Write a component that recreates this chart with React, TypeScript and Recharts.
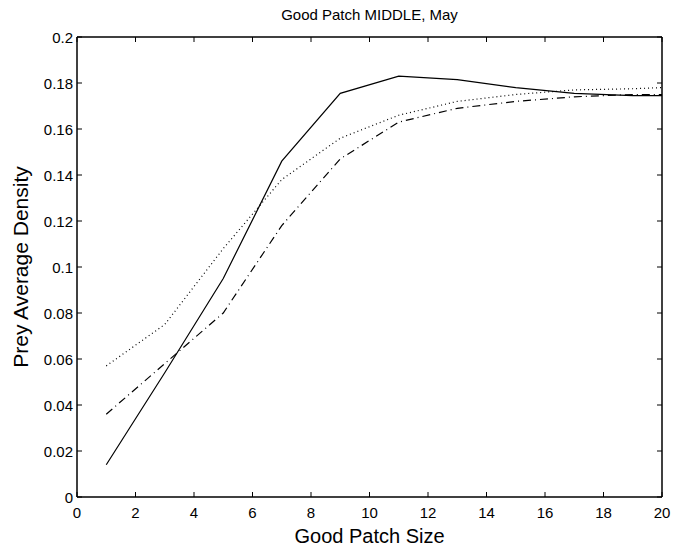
import React from 'react';
import { LineChart, Line, XAxis, YAxis } from 'recharts';

const patchSize = [1, 3, 5, 7, 9, 11, 13, 15, 17, 19, 20];
const solidSeries = [0.014, 0.054, 0.095, 0.146, 0.1755, 0.183, 0.1815, 0.178, 0.1755, 0.1745, 0.1745];
const dottedSeries = [0.057, 0.075, 0.108, 0.138, 0.156, 0.166, 0.172, 0.175, 0.177, 0.1775, 0.178];
const dashDotSeries = [0.036, 0.058, 0.080, 0.118, 0.147, 0.163, 0.169, 0.172, 0.174, 0.175, 0.175];
const xTicks = [0, 2, 4, 6, 8, 10, 12, 14, 16, 18, 20];
const yTicks = [0, 0.02, 0.04, 0.06, 0.08, 0.1, 0.12, 0.14, 0.16, 0.18, 0.2];
const yTickLabels = ['0', '0.02', '0.04', '0.06', '0.08', '0.1', '0.12', '0.14', '0.16', '0.18', '0.2'];

const data = patchSize.map((x, i) => ({
  x,
  solid: solidSeries[i],
  dotted: dottedSeries[i],
  dashdot: dashDotSeries[i],
}));

const FONT = '"Liberation Sans", Arial, Helvetica, sans-serif';
const TL = 5;

const BottomTick = (p: any) => (
  <g>
    <line x1={p.x} y1={p.y} x2={p.x} y2={p.y - TL} stroke="#000" strokeWidth={1} />
    <text x={p.x} y={p.y + 21} textAnchor="middle" fontSize={15} fontFamily={FONT} fill="#000">
      {p.payload.value}
    </text>
  </g>
);
const TopTick = (p: any) => (
  <line x1={p.x} y1={p.y} x2={p.x} y2={p.y + TL} stroke="#000" strokeWidth={1} />
);
const LeftTick = (p: any) => {
  const idx = yTicks.indexOf(p.payload.value);
  return (
    <g>
      <line x1={p.x} y1={p.y} x2={p.x + TL} y2={p.y} stroke="#000" strokeWidth={1} />
      <text x={p.x - 4} y={p.y + 5.5} textAnchor="end" fontSize={15} fontFamily={FONT} fill="#000">
        {idx >= 0 ? yTickLabels[idx] : p.payload.value}
      </text>
    </g>
  );
};
const RightTick = (p: any) => (
  <line x1={p.x} y1={p.y} x2={p.x - TL} y2={p.y} stroke="#000" strokeWidth={1} />
);

export default function App() {
  return (
    <div style={{ position: 'absolute', left: 0, top: 0, width: 675, height: 548, background: '#fff' }}>
      <LineChart width={675} height={548} data={data} margin={{ top: 36, right: 12, bottom: 0, left: 0 }}>
        <XAxis
          dataKey="x"
          type="number"
          domain={[0, 20]}
          ticks={xTicks}
          allowDataOverflow
          height={51}
          tickSize={0}
          tickMargin={0}
          tick={<BottomTick />}
          axisLine={{ stroke: '#000', strokeWidth: 1.5 }}
          tickLine={false}
          label={(props: any) => {
            const vb = props.viewBox || {};
            return (
              <text x={(vb.x ?? 77) + (vb.width ?? 585) / 2} y={543} textAnchor="middle" fontSize={20} fontFamily={FONT} fill="#000">
                Good Patch Size
              </text>
            );
          }}
        />
        <XAxis
          xAxisId="top"
          dataKey="x"
          type="number"
          orientation="top"
          domain={[0, 20]}
          ticks={xTicks}
          allowDataOverflow
          height={1}
          tickSize={0}
          tickMargin={0}
          tick={<TopTick />}
          axisLine={{ stroke: '#000', strokeWidth: 1.5 }}
          tickLine={false}
          label={(props: any) => {
            const vb = props.viewBox || {};
            return (
              <text x={(vb.x ?? 77) + (vb.width ?? 585) / 2} y={20} textAnchor="middle" fontSize={15} fontFamily={FONT} fill="#000">
                Good Patch MIDDLE, May
              </text>
            );
          }}
        />
        <YAxis
          type="number"
          domain={[0, 0.2]}
          ticks={yTicks}
          allowDataOverflow
          width={77}
          tickSize={0}
          tickMargin={0}
          tick={<LeftTick />}
          axisLine={{ stroke: '#000', strokeWidth: 1.5 }}
          tickLine={false}
          label={(props: any) => {
            const vb = props.viewBox || {};
            const cy = (vb.y ?? 37) + (vb.height ?? 460) / 2;
            return (
              <text x={20} y={cy} transform={`rotate(-90, 20, ${cy})`} textAnchor="middle" dominantBaseline="central" fontSize={21} fontFamily={FONT} fill="#000">
                Prey Average Density
              </text>
            );
          }}
        />
        <YAxis
          yAxisId="right"
          orientation="right"
          type="number"
          domain={[0, 0.2]}
          ticks={yTicks}
          allowDataOverflow
          width={1}
          tickSize={0}
          tickMargin={0}
          tick={<RightTick />}
          axisLine={{ stroke: '#000', strokeWidth: 1.5 }}
          tickLine={false}
        />
        <Line dataKey="solid" stroke="#000" strokeWidth={1.2} dot={false} isAnimationActive={false} type="linear" />
        <Line dataKey="dotted" stroke="#000" strokeWidth={1.2} strokeDasharray="1 3" dot={false} isAnimationActive={false} type="linear" />
        <Line dataKey="dashdot" stroke="#000" strokeWidth={1.2} strokeDasharray="8 4 1 4" dot={false} isAnimationActive={false} type="linear" />
      </LineChart>
    </div>
  );
}
